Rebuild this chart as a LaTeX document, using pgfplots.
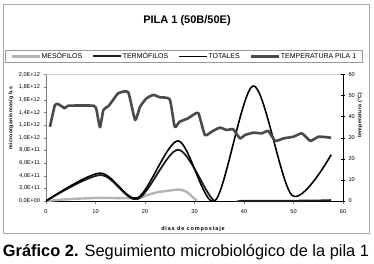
\documentclass[border=0pt]{standalone}
\usepackage{pgfplots}
\pgfplotsset{compat=1.18}
\usepackage{fontspec}
\setmainfont{Liberation Sans}
\newfontfamily\spaced[LetterSpace=15]{Liberation Sans}
\newfontfamily\spacedb[LetterSpace=6]{Liberation Sans}
\definecolor{mesocol}{HTML}{B4B4B4}
\definecolor{termocol}{HTML}{1E1E1E}
\definecolor{totcol}{HTML}{000000}
\definecolor{tempcol}{HTML}{4A4A4A}
\begin{document}
\begin{tikzpicture}
\path[use as bounding box] (0,0) rectangle (374pt,-264pt);
\draw[gray!70, line width=0.8pt] (3pt,-4.5pt) rectangle (369pt,-233pt);
\node at (187pt,-21pt) {\fontsize{11}{13}\selectfont\bfseries PILA 1 (50B/50E)};
\node[anchor=base] at (186pt,-256pt) {\fontsize{16.4}{18}\selectfont\textbf{Gráfico 2.} Seguimiento microbiológico de la pila 1};
\begin{axis}[
  at={(46pt,-201pt)}, anchor=south west, scale only axis,
  width=297pt, height=126.5pt,
  xmin=0, xmax=60, ymin=0, ymax=20,
  axis x line*=bottom, axis y line*=left,
  x axis line style={black,-}, y axis line style={gray,-},
  xtick={0,10,...,60}, ytick={0,2,...,20},
  yticklabels={{0,0E+00},{2,0E+11},{4,0E+11},{6,0E+11},{8,0E+11},{1,0E+12},{1,2E+12},{1,4E+12},{1,6E+12},{1,8E+12},{2,0E+12}},
  tick align=outside, major tick length=2.5pt,
  tick style={gray, thin},
  tick label style={font=\fontsize{5.6}{6}\selectfont},
  /pgf/number format/assume math mode=true,
  xticklabel style={yshift=-3pt},
  xlabel={\spaced\bfseries dias de compostaje},
  xlabel style={at={(axis description cs:0.495,-0.221)}, anchor=center, font=\fontsize{5.5}{6}\selectfont},
  ylabel={\spacedb\bfseries microorganismos/g b.s},
  ylabel style={at={(axis description cs:-0.118,0.656)}, anchor=center, rotate=0, font=\fontsize{5.2}{6}\selectfont},
  legend columns=4,
  legend image code/.code={\draw[#1] (0pt,0pt) -- (28pt,0pt);},
  legend style={at={(axis description cs:-0.138,1.19)}, anchor=north west,
    draw=gray!80, line width=0.6pt, font=\fontsize{7}{8}\selectfont,
    inner xsep=5pt, inner ysep=1pt, nodes={inner sep=0.8pt},
    /tikz/every even column/.append style={column sep=9pt}},
]
\draw[gray!40] (rel axis cs:0,1) -- (rel axis cs:1,1);
\addplot[mesocol, line width=2.4pt, smooth, tension=0.5] coordinates {
(0,0) (3,0.2) (6,0.35) (11,0.5) (15,0.45) (18.5,0.45) (20,0.8) (22,1.3) (24.5,1.6) (27,1.8) (28.5,1.4) (29.5,0.7) (30.5,0.05)};
\addlegendentry{MESÓFILOS}
\addplot[termocol, line width=1.8pt, smooth] coordinates {
(0,0) (11,4.1) (18.5,0.3) (26.7,8.1) (34,0) (40,0.05) (50,0.05) (56,0.1) (57.6,0.15)};
\addlegendentry{TERMÓFILOS}
\addplot[totcol, line width=1.6pt, smooth] coordinates {
(0,0) (10.9,4.4) (18.5,0.5) (26.7,9.5) (34.1,0) (41.9,18.2) (49.7,0.9) (57.6,7.3)};
\addlegendentry{TOTALES}
\addlegendimage{tempcol, line width=2.6pt}
\addlegendentry{TEMPERATURA PILA 1}
\end{axis}
\begin{axis}[
  at={(46pt,-201pt)}, anchor=south west, scale only axis,
  width=297pt, height=126.5pt,
  xmin=0, xmax=60, ymin=0, ymax=60,
  axis x line=none, axis y line*=right,
  y axis line style={black,-},
  ytick={0,10,...,60},
  tick align=center, major tick length=4pt,
  tick style={black, thin},
  tick label style={font=\fontsize{5.6}{6}\selectfont},
  /pgf/number format/assume math mode=true,
  ylabel={\spacedb\bfseries temperatura (°C)},
  ylabel style={at={(axis description cs:1.057,0.68)}, anchor=center, rotate=0, font=\fontsize{5.2}{6}\selectfont},
]
\addplot[tempcol, line width=2.6pt, line join=round, smooth, tension=0.3] coordinates {
(0.8,35.2) (1.8,45.5) (2.5,45.9) (3.8,44) (4.5,45.2) (9.6,45.2) (10.2,43.2) (10.9,35) (11.6,43.2) (12.6,45) (13.3,47.1) (14.6,51.1) (16.6,51.6) (18,38.4) (19,44.7) (20.3,48.7) (21.7,50.3) (23,49.2) (25,48.2) (26,35.2) (27,37.6) (28.7,39.2) (29.7,40.8) (30.8,41.6) (32.1,31.3) (33.5,32.9) (35.1,34.8) (36.5,33.7) (37.8,34) (39.2,29.7) (40.2,31.3) (41.9,32.4) (43.6,32.1) (44.9,33.2) (46.3,28.5) (48,29.7) (50,30.5) (51.7,32.1) (53.4,28.5) (55.1,30.5) (57.6,30)};
\end{axis}
\end{tikzpicture}
\end{document}
